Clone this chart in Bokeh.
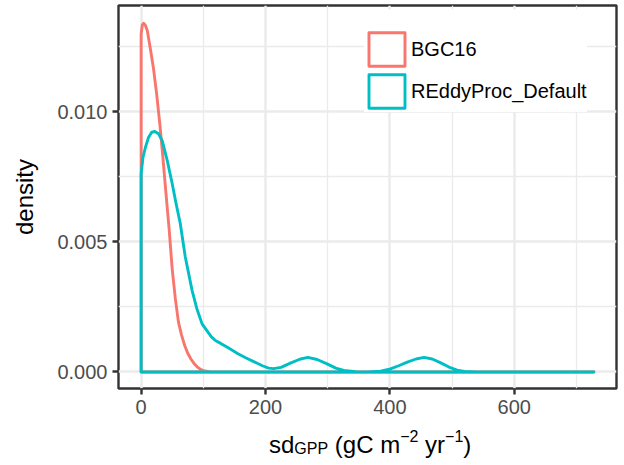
from bokeh.plotting import figure
from bokeh.layouts import column
from bokeh.models import (Range1d, FixedTicker, PrintfTickFormatter, Legend,
                          LegendItem, Label, BoxAnnotation)
from bokeh.core.properties import value
from bokeh.embed import file_html
from bokeh.resources import INLINE

# ---------------- data ----------------
series_names = ["BGC16", "REddyProc_Default"]
series_colors = ["#F8766D", "#00BFC4"]

bgc16_x = [0, 2, 4, 7, 10, 15, 20, 25, 30, 35, 40, 45, 50, 55, 60, 65, 70,
           75, 80, 85, 90, 95, 100, 110, 120, 728]
bgc16_density = [0.01300, 0.01336, 0.01341, 0.01333, 0.01312, 0.01240,
                 0.01165, 0.01068, 0.00955, 0.00825, 0.00685, 0.00550,
                 0.00395, 0.00282, 0.00192, 0.00142, 0.00102, 0.00072,
                 0.00050, 0.00033, 0.00020, 0.00011, 0.00005, 0.00001,
                 0.0, 0.0]

reddy_x = [0, 3, 7, 12, 17, 22, 28, 34, 42, 50, 56, 63, 71, 82, 90, 98, 106,
           113, 120, 128, 140, 155, 168, 181, 195, 205, 213, 225, 240, 255,
           268, 283, 299, 313, 326, 345, 365, 385, 401, 415, 428, 442, 455,
           468, 481, 495, 508, 520, 540, 728]
reddy_density = [0.00762, 0.00826, 0.00865, 0.00903, 0.00922, 0.00925,
                 0.00916, 0.00889, 0.00813, 0.00724, 0.00650, 0.00570,
                 0.00442, 0.00313, 0.00240, 0.00185, 0.00158, 0.00135,
                 0.00120, 0.00110, 0.00093, 0.00071, 0.00055, 0.00040,
                 0.00024, 0.00015, 0.00013, 0.00018, 0.00034, 0.00049,
                 0.00056, 0.00048, 0.00031, 0.00015, 0.00006, 0.00001,
                 0.0, 0.00003, 0.00012, 0.00025, 0.00038, 0.00050, 0.00056,
                 0.00050, 0.00036, 0.00019, 0.00007, 0.00002, 0.0, 0.0]

x_ticks = [0, 200, 400, 600]
x_minor_ticks = [100, 300, 500, 700]
y_ticks = [0.000, 0.005, 0.010]
y_minor_ticks = [0.0025, 0.0075, 0.0125]
y_label = "density"
# x label pieces: (text, role, space before)
x_label_parts = [("sd", "main", False), ("GPP", "sub", False),
                 ("(gC m", "main", True), ("\u22122", "sup", False),
                 ("yr", "main", True), ("\u22121", "sup", False),
                 (")", "main", False)]

# ---------------- layout ----------------
FONT = "Liberation Sans"
X_LO, X_HI = -36.4, 764.4
Y_LO, Y_HI = -0.000635, 0.014096
W, H1, H2 = 620, 428, 36
FRAME_L, FRAME_R, FRAME_T, FRAME_B = 118, 616, 5, 388  # page px


def px_to_x(px):
    return X_LO + (px - FRAME_L) / (FRAME_R - FRAME_L) * (X_HI - X_LO)


def py_to_y(py):
    return Y_LO + (FRAME_B - py) / (FRAME_B - FRAME_T) * (Y_HI - Y_LO)


p = figure(width=W, height=H1, output_backend="svg", toolbar_location=None,
           title_location=None,
           x_range=Range1d(X_LO, X_HI), y_range=Range1d(Y_LO, Y_HI),
           min_border_left=FRAME_L, min_border_right=W - FRAME_R,
           min_border_top=FRAME_T, min_border_bottom=H1 - FRAME_B)
p.background_fill_color = "white"
p.border_fill_color = "white"
p.outline_line_color = "#333333"
p.outline_line_width = 2.4

p.xaxis.ticker = FixedTicker(ticks=x_ticks, minor_ticks=x_minor_ticks)
p.yaxis.ticker = FixedTicker(ticks=y_ticks, minor_ticks=y_minor_ticks)
p.yaxis.formatter = PrintfTickFormatter(format="%.3f")

for ax in (p.xaxis[0], p.yaxis[0]):
    ax.axis_line_color = None
    ax.minor_tick_line_color = None
    ax.major_tick_in = 0
    ax.major_tick_out = 6
    ax.major_tick_line_color = "#333333"
    ax.major_tick_line_width = 2.4
    ax.major_label_text_font = FONT
    ax.major_label_text_font_size = "20px"
    ax.major_label_text_color = "#4D4D4D"
    ax.major_label_standoff = 5

p.yaxis.axis_label = y_label
p.yaxis.axis_label_text_font = FONT
p.yaxis.axis_label_text_font_size = "24px"
p.yaxis.axis_label_text_font_style = "normal"
p.yaxis.axis_label_text_color = "black"
p.yaxis.axis_label_standoff = 16

for g in (p.xgrid[0], p.ygrid[0]):
    g.grid_line_color = "#EBEBEB"
    g.grid_line_width = 2.5
    g.minor_grid_line_color = "#EBEBEB"
    g.minor_grid_line_width = 1.3

# density outlines (closed polygons, like ggplot's outline.type = "full")
renderers = []
for xs, ys, col in ((bgc16_x, bgc16_density, series_colors[0]),
                    (reddy_x, reddy_density, series_colors[1])):
    px = [xs[0]] + list(xs)
    py = [0.0] + list(ys)
    r = p.patch(px, py, fill_color=None, line_color=col, line_width=2.9,
                line_join="round")
    renderers.append(r)

# white area behind the legend (top strip)
p.add_layout(BoxAnnotation(left=px_to_x(353), right=px_to_x(611),
                           bottom=py_to_y(30), top=py_to_y(9),
                           fill_color="white", fill_alpha=1.0, line_color=None))

legend = Legend(items=[LegendItem(label=value(n), renderers=[r])
                       for n, r in zip(series_names, renderers)],
                location=(246, 276),
                orientation="vertical", glyph_width=45, glyph_height=42,
                spacing=-6, padding=12, margin=0, label_standoff=2,
                label_text_font=FONT, label_text_font_size="20px",
                label_text_color="black", border_line_color=None,
                background_fill_color="white", background_fill_alpha=1.0)
p.add_layout(legend)

# ---------------- x axis title (sub/superscripts) in a strip below ----------------
p2 = figure(width=W, height=H2, output_backend="svg", toolbar_location=None,
            title_location=None,
            x_range=Range1d(FRAME_L, FRAME_R), y_range=Range1d(H1 + H2, H1),
            x_axis_location=None, y_axis_location=None,
            min_border_left=FRAME_L, min_border_right=W - FRAME_R,
            min_border_top=0, min_border_bottom=0)
p2.grid.visible = False
p2.outline_line_color = None
p2.background_fill_color = "white"
p2.border_fill_color = "white"

F_MAIN, F_SMALL = 24, 16
adv = {"s": .5, "d": .556, "G": .778, "P": .667, " ": .278, "(": .333,
       "g": .556, "C": .722, "m": .833, "\u2212": .584, "2": .556,
       "1": .556, "y": .5, "r": .333, ")": .333}
SHIFT = 8  # measured offset of the lower strip
baselines = {"main": 452 - SHIFT, "sub": 455.5 - SHIFT, "sup": 443.5 - SHIFT}
cur = 268.5
for text, role, sp in x_label_parts:
    size = F_MAIN if role == "main" else F_SMALL
    if sp:
        cur += adv[" "] * F_MAIN
    p2.add_layout(Label(x=cur, y=baselines[role], text=text,
                        text_font=FONT, text_font_size=f"{size}px",
                        text_color="black", text_baseline="alphabetic",
                        text_align="left"))
    cur += sum(adv[c] for c in text) * size

layout = column(p, p2, spacing=0)
open("out.html", "w").write(file_html(layout, INLINE))
